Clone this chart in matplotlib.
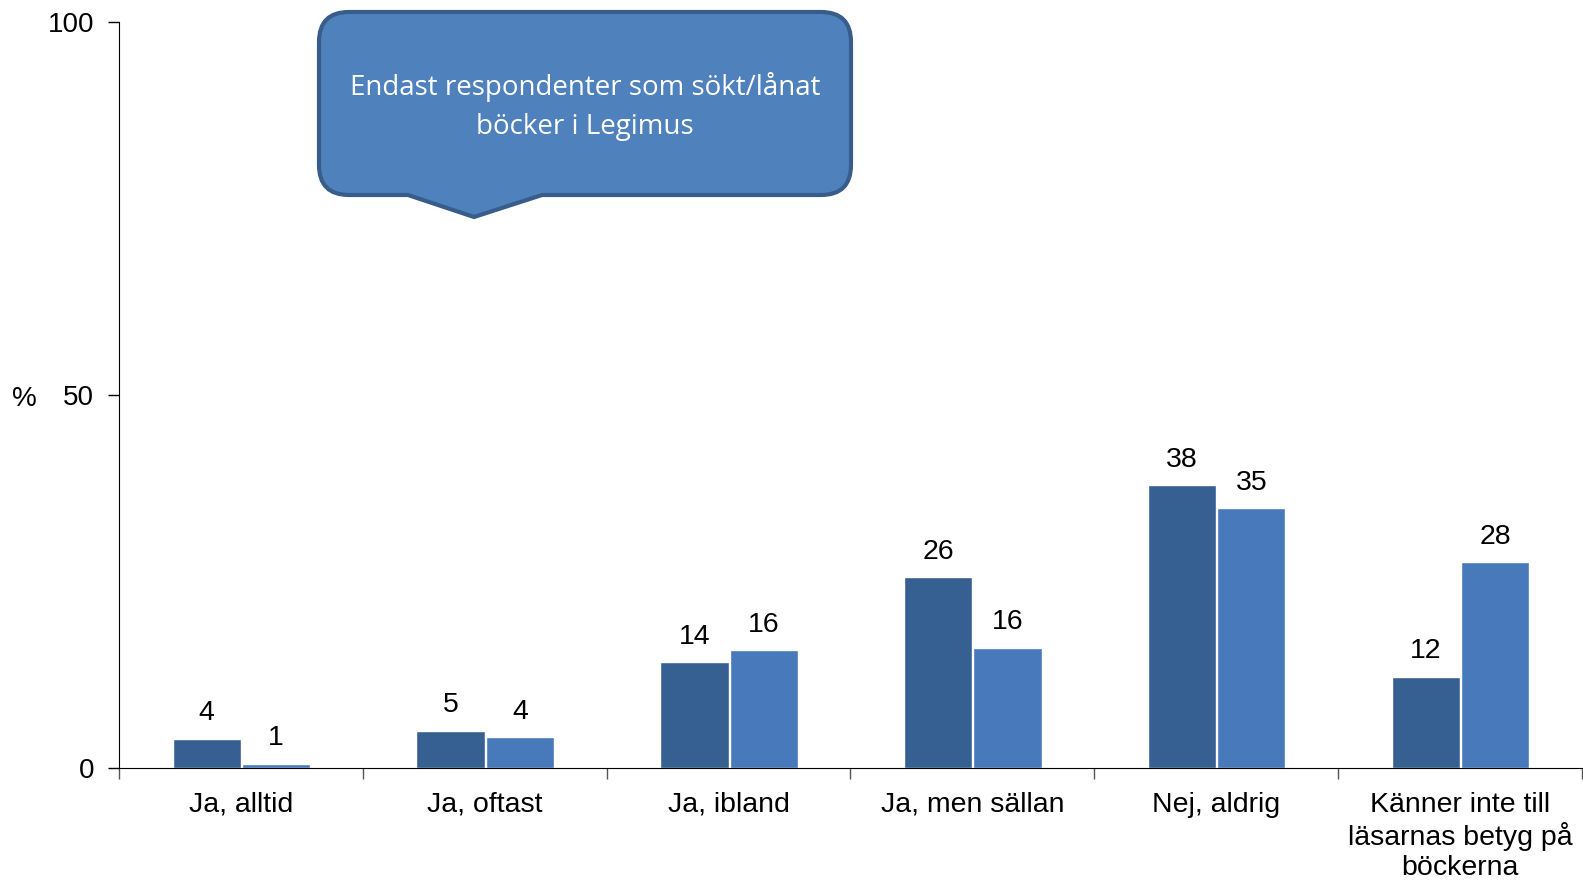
import numpy as np
import matplotlib
matplotlib.use("Agg")
import matplotlib.pyplot as plt
from matplotlib.path import Path
from matplotlib.patches import PathPatch

plt.rcParams['font.family'] = ['Liberation Sans', 'DejaVu Sans']

categories = ["Ja, alltid", "Ja, oftast", "Ja, ibland", "Ja, men sällan",
              "Nej, aldrig", "Känner inte till\nläsarnas betyg på\nböckerna"]
serie_a = [3.9, 5.0, 14.2, 25.6, 37.9, 12.2]
serie_b = [0.6, 4.1, 15.8, 16.1, 34.8, 27.6]
yticks = [0, 50, 100]

W, H = 1583, 880
fig = plt.figure(figsize=(W/100, H/100), dpi=100)
ax = fig.add_axes([119/W, 1-768/H, 1463/W, 746/H])

x = np.arange(len(categories))
bw = 0.28
b1 = ax.bar(x - bw/2, serie_a, bw, color="#366092", edgecolor="white", linewidth=1)
b2 = ax.bar(x + bw/2 + 0.004, serie_b, bw, color="#4779BB", edgecolor="white", linewidth=1)
ax.bar_label(b1, fmt='%.0f', padding=9, fontsize=20.5)
ax.bar_label(b2, fmt='%.0f', padding=9, fontsize=20.5)

ax.set_xlim(-0.5, len(categories)-0.5)
ax.set_ylim(0, 100)
ax.set_yticks(yticks)
ax.tick_params(axis='y', labelsize=20, length=8, width=1, pad=10)

# boundaries as major ticks, labels on minor ticks
ax.set_xticks(np.arange(len(categories)+1) - 0.5)
ax.set_xticklabels([])
ax.set_xticks(x, minor=True)
ax.set_xticklabels(categories, minor=True, fontsize=20.5, linespacing=1.2)
ax.tick_params(axis='x', which='major', length=8, width=1, color='#555555')
ax.tick_params(axis='x', which='minor', length=0, pad=17)

ax.spines['top'].set_visible(False)
ax.spines['right'].set_visible(False)
ax.set_ylabel("%", rotation=0, fontsize=20, labelpad=17, va='center')
ax.yaxis.set_label_coords(-0.065, 0.495)

# callout box
x0, x1, y0, y1, r = 319, 851, 12, 195, 30
verts = [(x0+r, y0), (x1-r, y0), (x1, y0), (x1, y0+r), (x1, y1-r), (x1, y1), (x1-r, y1),
         (542, y1), (474, 217), (408, y1), (x0+r, y1), (x0, y1), (x0, y1-r),
         (x0, y0+r), (x0, y0), (x0+r, y0), (x0+r, y0)]
codes = [Path.MOVETO, Path.LINETO, Path.CURVE3, Path.CURVE3, Path.LINETO, Path.CURVE3, Path.CURVE3,
         Path.LINETO, Path.LINETO, Path.LINETO, Path.LINETO, Path.CURVE3, Path.CURVE3,
         Path.LINETO, Path.CURVE3, Path.CURVE3, Path.CLOSEPOLY]
verts = [(vx/W, 1 - vy/H) for vx, vy in verts]
fig.patches.append(PathPatch(Path(verts, codes), transform=fig.transFigure,
                             facecolor="#4F81BD", edgecolor="#385D8A", linewidth=3))
fig.text(585/W, 1-106.5/H, "Endast respondenter som sökt/lånat\nböcker i Legimus",
         ha='center', va='center', color='white', fontsize=20, linespacing=1.48,
         family=['Open Sans', 'DejaVu Sans'])

fig.savefig("out.png", dpi=100)
